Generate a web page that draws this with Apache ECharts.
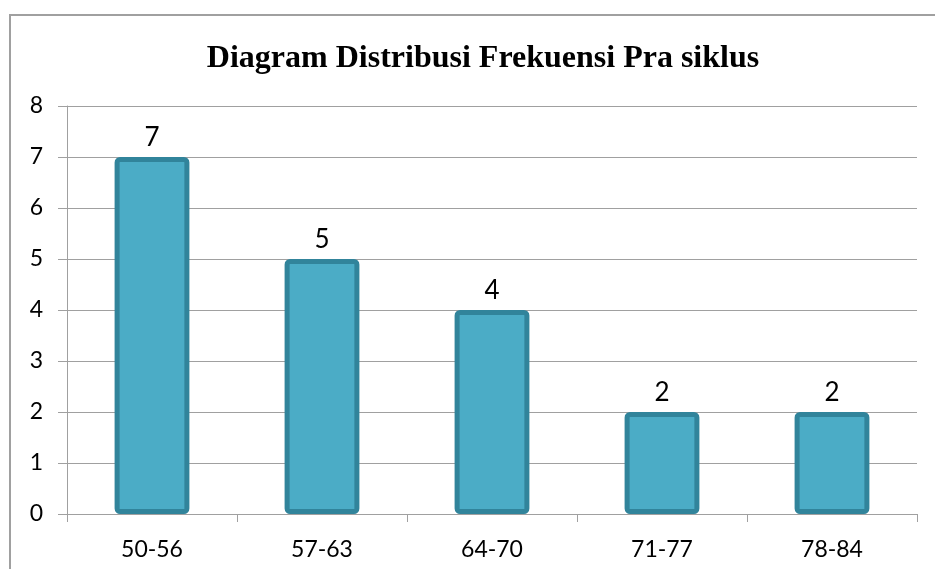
<!DOCTYPE html>
<html>
<head>
<meta charset="utf-8">
<script src="https://cdn.jsdelivr.net/npm/echarts@6/dist/echarts.min.js"></script>
<style>html,body{margin:0;padding:0;background:#fff;}#c{width:935px;height:569px;}</style>
</head>
<body>
<div id="c"></div>
<script>
const titleText = 'Diagram Distribusi Frekuensi Pra siklus';
const categories = ['50-56', '57-63', '64-70', '71-77', '78-84'];
const frequencies = [7, 5, 4, 2, 2];
const yTicks = [0, 1, 2, 3, 4, 5, 6, 7, 8];

const chart = echarts.init(document.getElementById('c'), null, {renderer: 'canvas'});
chart.setOption({
  animation: false,
  backgroundColor: '#ffffff',
  title: {
    text: titleText,
    left: 478, top: 38, textAlign: 'center',
    textStyle: {fontFamily: 'Liberation Serif', fontWeight: 'bold', fontSize: 32, color: '#000'}
  },
  graphic: [{
    type: 'rect', silent: true, z: -1,
    shape: {x: 10, y: 15, width: 950, height: 600},
    style: {fill: 'none', stroke: '#a0a0a0', lineWidth: 2}
  }],
  grid: {left: 67, right: 18, top: 106, bottom: 55},
  xAxis: {
    type: 'category',
    data: categories,
    boundaryGap: true,
    axisLine: {show: true, lineStyle: {color: '#a0a0a0', width: 1}},
    axisTick: {show: true, length: 8, alignWithLabel: false, lineStyle: {color: '#a0a0a0'}},
    axisLabel: {margin: 24, fontFamily: 'Lato', fontSize: 23, color: '#000'},
    splitLine: {show: false}
  },
  yAxis: {
    type: 'value',
    min: yTicks[0], max: yTicks[yTicks.length - 1], interval: 1,
    axisLine: {show: true, lineStyle: {color: '#a0a0a0', width: 1}},
    axisTick: {show: true, length: 9, lineStyle: {color: '#a0a0a0'}},
    axisLabel: {margin: 24, fontFamily: 'Lato', fontSize: 23, color: '#000'},
    splitLine: {show: true, lineStyle: {color: '#a0a0a0', width: 1}}
  },
  series: [{
    type: 'bar',
    data: frequencies,
    barWidth: '44%',
    itemStyle: {color: '#4BACC6', borderColor: '#31849B', borderWidth: 5, borderRadius: 3},
    label: {show: true, position: 'top', distance: 6, fontFamily: 'Lato', fontSize: 26, color: '#000'}
  }]
});
</script>
</body>
</html>
